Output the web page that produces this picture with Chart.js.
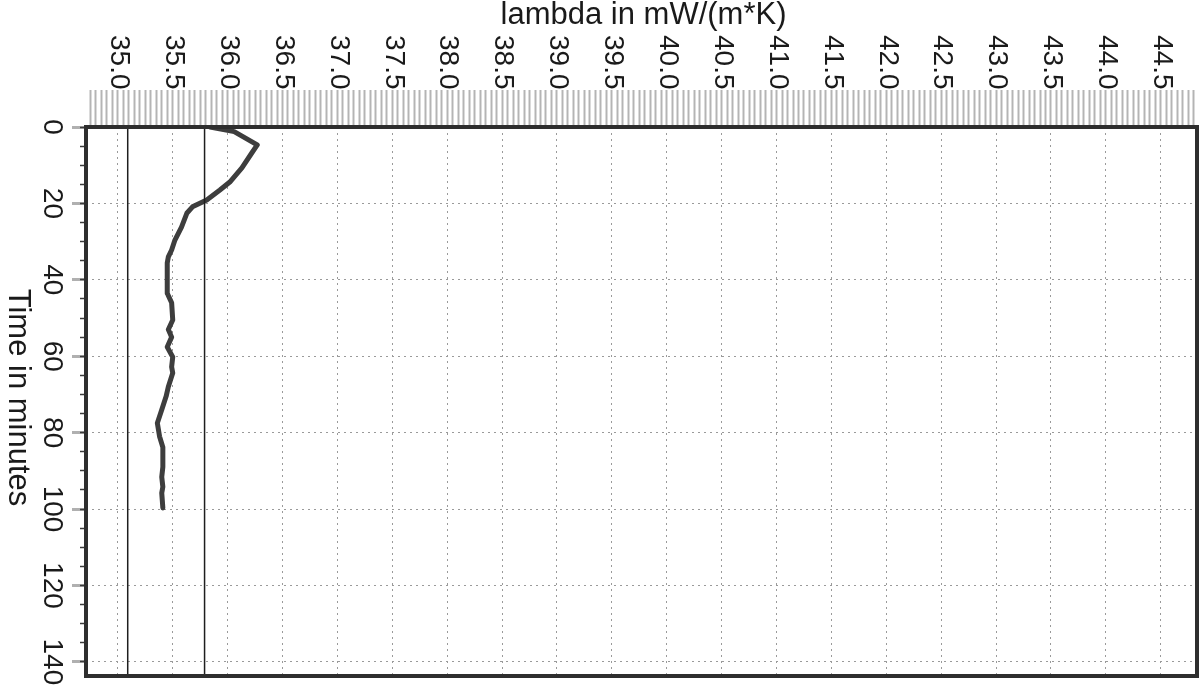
<!DOCTYPE html>
<html>
<head>
<meta charset="utf-8">
<script src="https://cdn.jsdelivr.net/npm/chart.js@4/dist/chart.umd.min.js"></script>
<style>
  body { margin: 0; background: #fff; }
  canvas { display: block; }
</style>
</head>
<body>
<canvas id="myChart" width="1199" height="697"></canvas>
<script>
// readings taken off the scanned curve (time in minutes / lambda in mW/(m*K))
const timeMin = [0, 0.6, 1.2, 4.7, 6.8, 10.7, 14.4, 16.5, 19.1, 20.9, 22.5, 26.2, 29.6, 32.2, 34.0,
    35.6, 39.3, 43.5, 46.0, 50.5, 53.0, 55.0, 57.6, 60.2, 62.8, 64.4, 68.0, 70.5, 74.0, 77.5,
    81.0, 83.8, 89.0, 91.6, 94.2, 95.8, 99.7];
const lambdaVals = [35.84, 35.95, 36.06, 36.27, 36.22, 36.13, 36.02, 35.93, 35.81, 35.68, 35.63, 35.58, 35.52, 35.49, 35.46,
    35.45, 35.45, 35.45, 35.49, 35.50, 35.46, 35.49, 35.45, 35.50, 35.49, 35.50, 35.46, 35.44, 35.40, 35.36,
    35.38, 35.41, 35.41, 35.40, 35.41, 35.40, 35.41];

// the two thin vertical reference lines
const refLambda = [35.09, 35.79];

// axis ticks
const lambdaTicks = [35.0, 35.5, 36.0, 36.5, 37.0, 37.5, 38.0, 38.5, 39.0, 39.5, 40.0, 40.5, 41.0, 41.5, 42.0, 42.5, 43.0, 43.5, 44.0, 44.5];
const timeTicks = [0, 20, 40, 60, 80, 100, 120, 140];

const lambdaMin = 34.71, lambdaMax = 44.83;
const timeMax = 143.7;

const FONT = "'Liberation Sans', Arial, sans-serif";

// labels in the scan are turned clockwise, chart.js only turns them the other way
const rotatedText = {
    id: 'rotatedText',
    afterDraw(chart) {
        const ctx = chart.ctx;
        const area = chart.chartArea;
        const xs = chart.scales.x, ys = chart.scales.y;

        // frame
        ctx.save();
        ctx.strokeStyle = '#2e2e2e';
        ctx.lineWidth = 4;
        ctx.strokeRect(area.left, area.top, area.right - area.left, area.bottom - area.top);
        ctx.restore();

        ctx.save();
        ctx.fillStyle = '#1a1a1a';
        ctx.font = '28px ' + FONT;
        ctx.textAlign = 'left';
        ctx.textBaseline = 'middle';
        lambdaTicks.forEach(v => {
            ctx.save();
            ctx.translate(xs.getPixelForValue(v) + 1, 35);
            ctx.rotate(Math.PI / 2);
            ctx.fillText(v.toFixed(1), 0, 0);
            ctx.restore();
        });

        ctx.textAlign = 'center';
        timeTicks.forEach(v => {
            ctx.save();
            ctx.translate(52, ys.getPixelForValue(v));
            ctx.rotate(Math.PI / 2);
            ctx.fillText(String(v), 0, 0);
            ctx.restore();
        });

        ctx.font = '31px ' + FONT;
        ctx.save();
        ctx.translate(18, (area.top + area.bottom) / 2 - 4);
        ctx.rotate(Math.PI / 2);
        ctx.fillText('Time in minutes', 0, 0);
        ctx.restore();

        ctx.textBaseline = 'alphabetic';
        ctx.fillText('lambda in mW/(m*K)', (area.left + area.right) / 2 + 2, 24);
        ctx.restore();
    }
};

const datasets = refLambda.map(v => ({
    data: [{x: v, y: 0}, {x: v, y: timeMax}],
    showLine: true,
    borderColor: '#1e1e1e',
    borderWidth: 1.5,
    pointRadius: 0
}));
datasets.push({
    data: timeMin.map((t, i) => ({x: lambdaVals[i], y: t})),
    showLine: true,
    borderColor: '#3d3d3d',
    borderWidth: 5,
    borderJoinStyle: 'round',
    borderCapStyle: 'round',
    pointRadius: 0,
    tension: 0
});

const ctx = document.getElementById('myChart').getContext('2d');
new Chart(ctx, {
    type: 'scatter',
    data: {datasets: datasets},
    options: {
        responsive: false,
        animation: false,
        layout: {padding: {left: 0, top: 0, right: 2, bottom: 21}},
        plugins: {legend: {display: false}, tooltip: {enabled: false}},
        scales: {
            x: {
                type: 'linear',
                position: 'top',
                weight: 1,
                min: lambdaMin,
                max: lambdaMax,
                ticks: {display: false, stepSize: 0.5, includeBounds: false},
                grid: {color: '#9a9a9a', drawTicks: false, lineWidth: 1},
                border: {display: false, dash: [2, 4]},
                afterFit(scale) { scale.height = 127; }
            },
            x2: {
                type: 'linear',
                position: 'top',
                weight: 0,
                min: lambdaMin,
                max: lambdaMax,
                ticks: {display: false, stepSize: 0.05, includeBounds: false},
                grid: {drawOnChartArea: false, drawTicks: true, tickLength: 37, tickColor: '#b4b4b4', tickWidth: 2},
                border: {display: false},
                afterFit(scale) { scale.height = 0; }
            },
            y: {
                type: 'linear',
                position: 'left',
                reverse: true,
                weight: 1,
                min: 0,
                max: timeMax,
                ticks: {display: false, stepSize: 20, includeBounds: false},
                grid: {color: '#9a9a9a', drawTicks: true, tickLength: 14, tickColor: '#b0b0b0', tickWidth: 3, tickBorderDash: []},
                border: {display: false, dash: [2, 4]},
                afterFit(scale) { scale.width = 86; }
            },
            y2: {
                type: 'linear',
                position: 'left',
                reverse: true,
                weight: 0,
                min: 0,
                max: timeMax,
                ticks: {display: false, stepSize: 5, includeBounds: false},
                grid: {drawOnChartArea: false, drawTicks: true, tickLength: 6, tickColor: '#3a3a3a', tickWidth: 1.5},
                border: {display: false},
                afterFit(scale) { scale.width = 0; }
            }
        }
    },
    plugins: [rotatedText]
});
</script>
</body>
</html>
